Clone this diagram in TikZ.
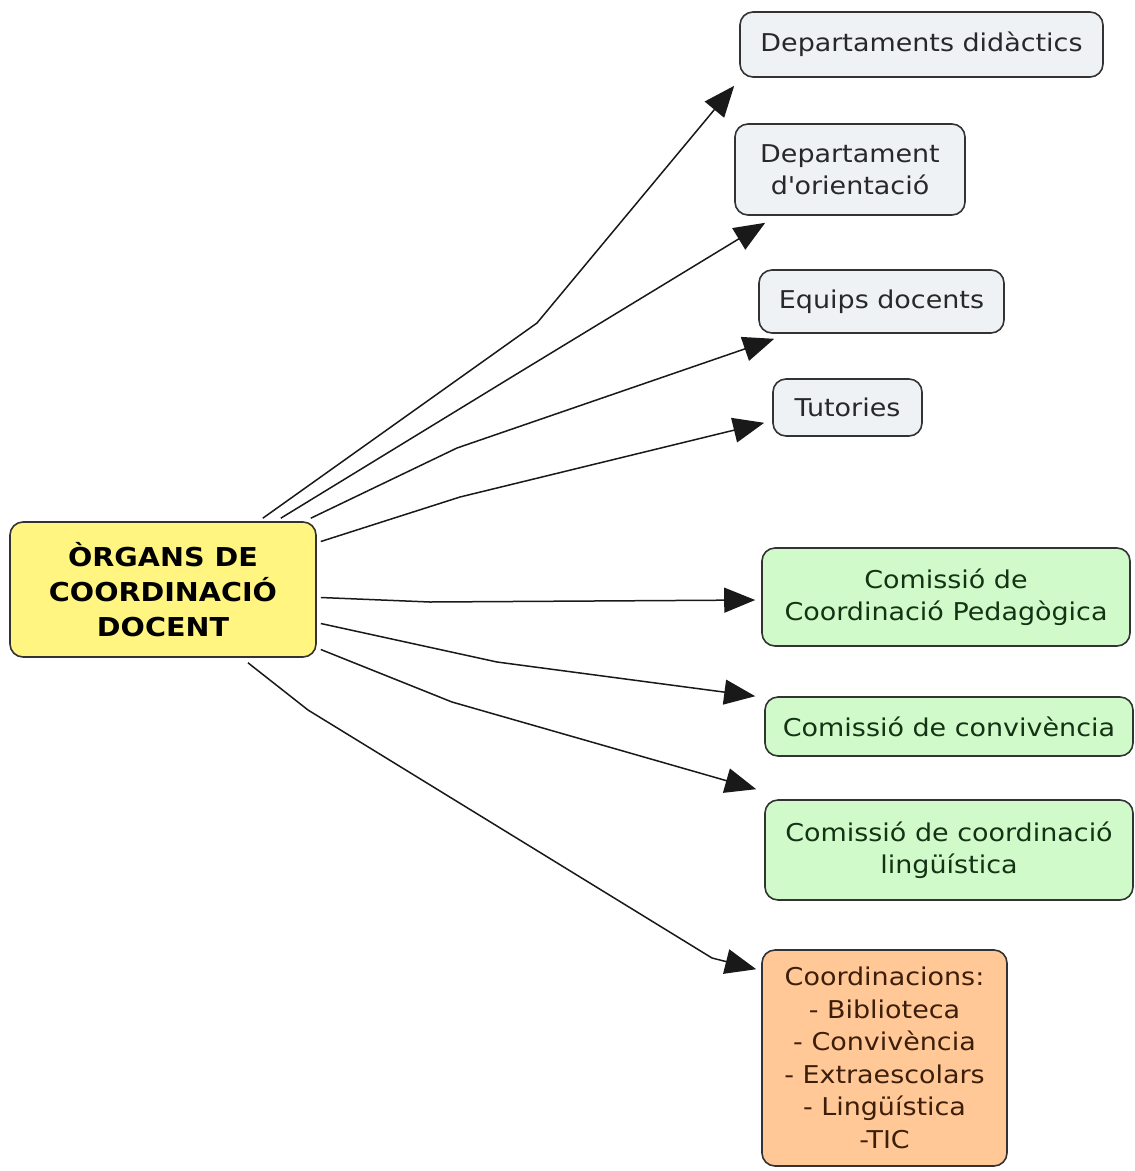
\documentclass[tikz,border=0pt]{standalone}
\usepackage{fontspec}
\setmainfont{DejaVu Sans}[FakeStretch=1.1]
\usetikzlibrary{arrows.meta,calc}
\definecolor{grayfill}{RGB}{238,242,245}
\definecolor{greenfill}{RGB}{208,250,202}
\definecolor{orangefill}{RGB}{255,200,150}
\definecolor{yellowfill}{RGB}{255,245,128}
\definecolor{graytext}{RGB}{40,40,40}
\definecolor{greentext}{RGB}{20,50,20}
\definecolor{orangetext}{RGB}{60,30,10}
\begin{document}
\begin{tikzpicture}[x=1pt,y=-1pt,
  box/.style={draw=black!80, line width=1.6pt, rounded corners=13pt, align=center,
    inner sep=0pt, font=\fontsize{24.5}{32.5}\selectfont},
  graybox/.style={box, fill=grayfill, text=graytext},
  greenbox/.style={box, fill=greenfill, text=greentext},
  orangebox/.style={box, fill=orangefill, text=orangetext},
  mainbox/.style={box, fill=yellowfill, text=black, font=\fontsize{26}{35}\selectfont\bfseries},
  arr/.style={draw=black!90, line width=1.5pt, -{Triangle[length=31pt,width=25pt]}}]
\useasboundingbox (0,0) rectangle (1135,1171);
\fill[white] (0,0) rectangle (1135,1171);

\node[mainbox, minimum width=306pt, minimum height=135pt] (o) at (163,589.5)
  {ÒRGANS DE\\COORDINACIÓ\\DOCENT};

\node[graybox, minimum width=363pt, minimum height=65pt] (d1) at (921.5,44.5) {Departaments didàctics};
\node[graybox, minimum width=230pt, minimum height=91pt] (d2) at (850,169.5) {Departament\\d\textquotesingle orientació};
\node[graybox, minimum width=245pt, minimum height=63pt] (d3) at (881.5,301.5) {Equips docents};
\node[graybox, minimum width=149pt, minimum height=57pt] (d4) at (847.5,407.5) {Tutories};

\node[greenbox, minimum width=368pt, minimum height=98pt] (c1) at (946,597) {Comissió de\\Coordinació Pedagògica};
\node[greenbox, minimum width=368pt, minimum height=59pt] (c2) at (949,726.5) {Comissió de convivència};
\node[greenbox, minimum width=368pt, minimum height=100pt] (c3) at (949,850) {Comissió de coordinació\\lingüística};

\node[orangebox, minimum width=245pt, minimum height=216pt] (co) at (884.5,1058)
  {Coordinacions:\\- Biblioteca\\- Convivència\\- Extraescolars\\- Lingüística\\-TIC};

\draw[arr] ($(o.north east)+(-54,-3)$) -- (537,323) -- ($(d1.south west)+(-5,8)$);
\draw[arr] ($(o.north east)+(-36,-3)$) -- (515,375) -- ($(d2.south west)+(31,7)$);
\draw[arr] ($(o.north east)+(-6,-3)$) -- (457,448) -- ($(d3.south west)+(16,5)$);
\draw[arr] ($(o.east)+(4,-48)$) -- (460,497) -- ($(d4.south west)+(-8,-14)$);
\draw[arr] ($(o.east)+(4,8)$) -- (430,602) -- ($(c1.west)+(-6,3)$);
\draw[arr] ($(o.east)+(4,34)$) -- (497,662) -- ($(c2.north west)+(-9,0)$);
\draw[arr] ($(o.east)+(4,60)$) -- (452,702) -- ($(c3.north west)+(-8,-10)$);
\draw[arr] ($(o.south)+(85,5)$) -- (308,710) -- (712,958) -- ($(co.north west)+(-5,20)$);
\end{tikzpicture}
\end{document}
